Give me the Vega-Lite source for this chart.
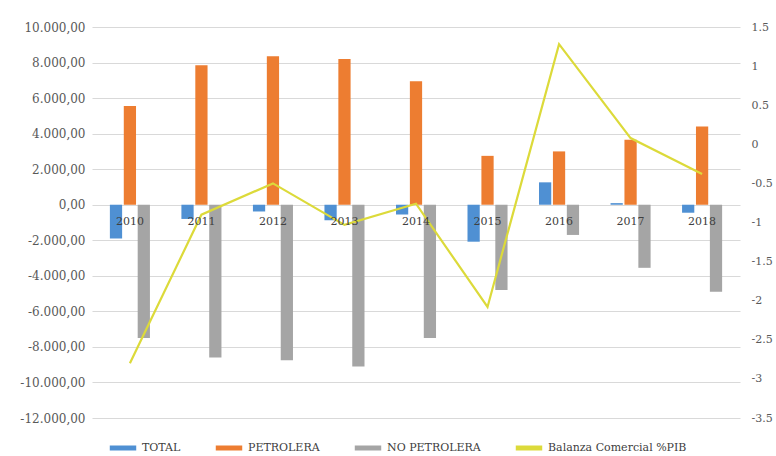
{
  "$schema": "https://vega.github.io/schema/vega-lite/v6.json",
  "width": 648,
  "height": 391,
  "autosize": {"type": "none"},
  "padding": {"left": 92, "top": 27, "right": 36, "bottom": 38},
  "background": "white",
  "config": {
    "locale": {"number": {"decimal": ",", "thousands": ".", "grouping": [3], "currency": ["", ""], "minus": "-"}},
    "view": {"stroke": null},
    "font": "DejaVu Serif",
    "axis": {"labelFont": "DejaVu Serif", "labelColor": "#595959", "labelFontSize": 12, "domain": false, "ticks": false, "title": null},
    "legend": {"labelFont": "DejaVu Serif"}
  },
  "datasets": {
    "bars": [
      {"year": "2010", "serie": "TOTAL", "value": -1900},
      {"year": "2010", "serie": "PETROLERA", "value": 5550},
      {"year": "2010", "serie": "NO PETROLERA", "value": -7500},
      {"year": "2011", "serie": "TOTAL", "value": -800},
      {"year": "2011", "serie": "PETROLERA", "value": 7850},
      {"year": "2011", "serie": "NO PETROLERA", "value": -8600},
      {"year": "2012", "serie": "TOTAL", "value": -380},
      {"year": "2012", "serie": "PETROLERA", "value": 8350},
      {"year": "2012", "serie": "NO PETROLERA", "value": -8750},
      {"year": "2013", "serie": "TOTAL", "value": -880},
      {"year": "2013", "serie": "PETROLERA", "value": 8200},
      {"year": "2013", "serie": "NO PETROLERA", "value": -9100},
      {"year": "2014", "serie": "TOTAL", "value": -550},
      {"year": "2014", "serie": "PETROLERA", "value": 6950},
      {"year": "2014", "serie": "NO PETROLERA", "value": -7500},
      {"year": "2015", "serie": "TOTAL", "value": -2080},
      {"year": "2015", "serie": "PETROLERA", "value": 2750},
      {"year": "2015", "serie": "NO PETROLERA", "value": -4800},
      {"year": "2016", "serie": "TOTAL", "value": 1260},
      {"year": "2016", "serie": "PETROLERA", "value": 3000},
      {"year": "2016", "serie": "NO PETROLERA", "value": -1700},
      {"year": "2017", "serie": "TOTAL", "value": 90},
      {"year": "2017", "serie": "PETROLERA", "value": 3650},
      {"year": "2017", "serie": "NO PETROLERA", "value": -3550},
      {"year": "2018", "serie": "TOTAL", "value": -450},
      {"year": "2018", "serie": "PETROLERA", "value": 4400},
      {"year": "2018", "serie": "NO PETROLERA", "value": -4900}
    ],
    "line": [
      {"year": "2010", "pib": -2.8},
      {"year": "2011", "pib": -0.9},
      {"year": "2012", "pib": -0.5},
      {"year": "2013", "pib": -1.03},
      {"year": "2014", "pib": -0.76},
      {"year": "2015", "pib": -2.08},
      {"year": "2016", "pib": 1.28},
      {"year": "2017", "pib": 0.08},
      {"year": "2018", "pib": -0.38}
    ]
  },
  "layer": [
    {
      "data": {"name": "bars"},
      "mark": {"type": "bar"},
      "encoding": {
        "x": {
          "field": "year", "type": "nominal",
          "scale": {"paddingInner": 0.44, "paddingOuter": 0.25},
          "axis": {"orient": "bottom", "offset": -213.3, "labelAngle": 0, "labelPadding": 11, "zindex": 1, "labelColor": "#404040", "labelFontSize": 11, "grid": false}
        },
        "xOffset": {
          "field": "serie", "type": "nominal",
          "scale": {"domain": ["TOTAL", "PETROLERA", "NO PETROLERA"], "paddingInner": 0.12}
        },
        "y": {
          "field": "value", "type": "quantitative",
          "scale": {"domain": [-12000, 10000], "nice": false},
          "axis": {"values": [-12000, -10000, -8000, -6000, -4000, -2000, 0, 2000, 4000, 6000, 8000, 10000], "format": ",.2f", "grid": true, "gridColor": "#D9D9D9", "labelPadding": 7}
        },
        "color": {
          "field": "serie", "type": "nominal",
          "scale": {"domain": ["TOTAL", "PETROLERA", "NO PETROLERA", "Balanza Comercial %PIB"], "range": ["#4F90D3", "#ED7D31", "#A5A5A5", "#DCDA3A"]},
          "legend": {"orient": "none", "legendX": 15, "legendY": 405, "direction": "horizontal", "title": null, "symbolType": "stroke", "symbolStrokeWidth": 5, "symbolSize": 700, "labelFont": "DejaVu Serif", "labelFontSize": 11, "labelColor": "#404040", "columnPadding": 24, "labelOffset": 3}
        }
      }
    },
    {
      "data": {"name": "line"},
      "mark": {"type": "line", "strokeWidth": 2.2},
      "encoding": {
        "x": {"field": "year", "type": "nominal"},
        "y": {
          "field": "pib", "type": "quantitative",
          "scale": {"domain": [-3.5, 1.5], "nice": false},
          "axis": {"orient": "right", "values": [-3.5, -3, -2.5, -2, -1.5, -1, -0.5, 0, 0.5, 1, 1.5], "labelExpr": "'' + datum.value", "grid": false, "labelPadding": 11, "labelFontSize": 11}
        },
        "color": {"datum": "Balanza Comercial %PIB"}
      }
    }
  ],
  "resolve": {"scale": {"y": "independent"}}
}
